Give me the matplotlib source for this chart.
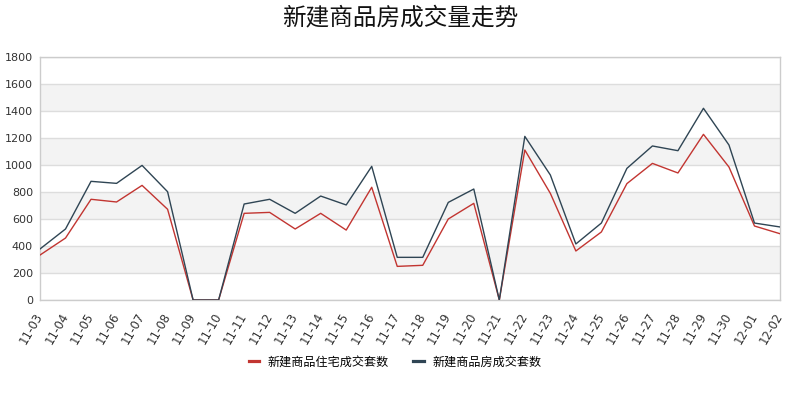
import matplotlib
matplotlib.use("Agg")
import matplotlib.pyplot as plt
from matplotlib.lines import Line2D

plt.rcParams['font.family'] = ['Noto Sans CJK SC', 'DejaVu Sans']

dates = ["11-03", "11-04", "11-05", "11-06", "11-07", "11-08", "11-09", "11-10",
         "11-11", "11-12", "11-13", "11-14", "11-15", "11-16", "11-17", "11-18",
         "11-19", "11-20", "11-21", "11-22", "11-23", "11-24", "11-25", "11-26",
         "11-27", "11-28", "11-29", "11-30", "12-01", "12-02"]
residential = [333, 459, 746, 726, 849, 672, 0, 0, 642, 649, 526, 642, 518, 835,
               249, 257, 600, 716, 0, 1111, 790, 363, 504, 862, 1012, 941, 1227,
               985, 548, 491]
all_housing = [378, 526, 879, 864, 997, 802, 0, 0, 711, 746, 642, 770, 704, 990,
               316, 316, 723, 822, 0, 1212, 926, 415, 570, 975, 1141, 1106, 1420,
               1148, 570, 541]
series_names = ["新建商品住宅成交套数", "新建商品房成交套数"]
title = "新建商品房成交量走势"
yticks = [0, 200, 400, 600, 800, 1000, 1200, 1400, 1600, 1800]

red = "#c23531"
dark = "#2f4554"

fig = plt.figure(figsize=(8, 4), dpi=100)
ax = fig.add_axes([0.05, 0.25, 0.925, 0.6075])

x = list(range(len(dates)))
ax.set_xlim(0, len(dates) - 1)
ax.set_ylim(0, 1800)

for i in range(len(yticks) - 1):
    if i % 2 == 1:
        ax.axhspan(yticks[i], yticks[i + 1], color="#f3f3f3", zorder=0, lw=0)
for v in yticks:
    ax.axhline(v, color="#dddddd", lw=1, zorder=1)

ax.plot(x, residential, color=red, lw=1, zorder=3)
ax.plot(x, all_housing, color=dark, lw=1, zorder=3)

ax.set_yticks(yticks)
ax.set_yticklabels([str(v) for v in yticks], family="DejaVu Sans", fontsize=8, color="#333333")
ax.set_xticks(x)
ax.set_xticklabels(dates, rotation=60, ha="right", va="center", rotation_mode="anchor",
                   family="DejaVu Sans", fontsize=8.5, color="#333333")
ax.tick_params(axis="both", length=0, pad=5)
ax.tick_params(axis="x", pad=10)

for s in ax.spines.values():
    s.set_color("#cccccc")
    s.set_linewidth(1)

fig.text(0.5, 0.955, title, ha="center", va="center", fontsize=17,
         color="#111111")

handles = [Line2D([0], [0], color=red, lw=2.3), Line2D([0], [0], color=dark, lw=2.3)]
fig.legend(handles, series_names, loc="center", bbox_to_anchor=(0.494, 0.095), ncol=2,
           frameon=False, fontsize=8.7, handlelength=0.85, handletextpad=0.75,
           columnspacing=2.0)

fig.savefig("out.png", dpi=100)
